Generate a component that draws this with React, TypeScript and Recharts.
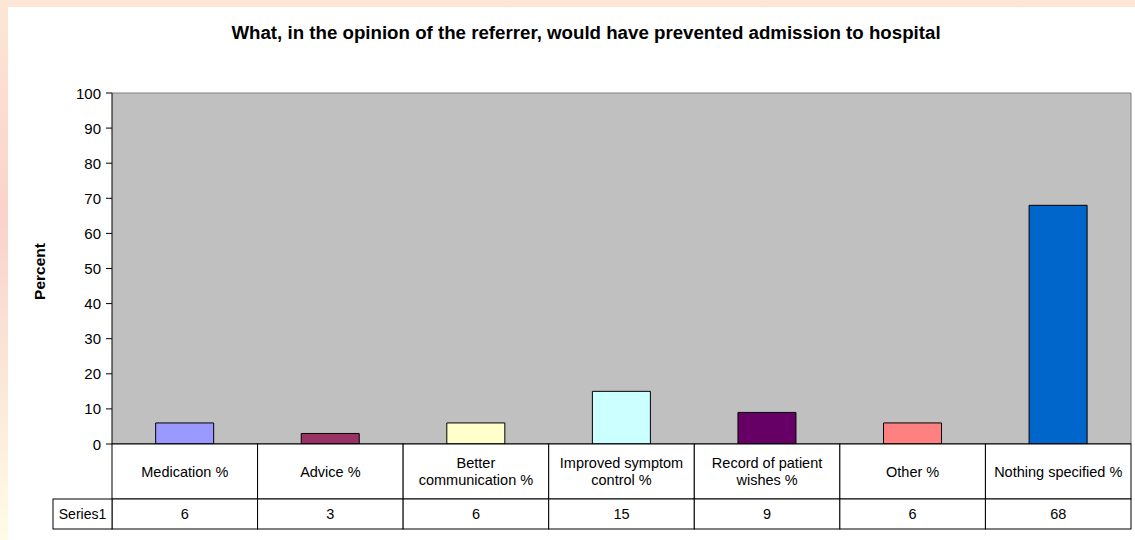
import { BarChart, Bar, XAxis, YAxis, CartesianGrid, Cell } from "recharts";

const categories = [
  "Medication %",
  "Advice %",
  "Better communication %",
  "Improved symptom control %",
  "Record of patient wishes %",
  "Other %",
  "Nothing specified %",
];

// how the labels break inside the table cells
const categoryLines = [
  ["Medication %"],
  ["Advice %"],
  ["Better", "communication %"],
  ["Improved symptom", "control %"],
  ["Record of patient", "wishes %"],
  ["Other %"],
  ["Nothing specified %"],
];

const series1 = [6, 3, 6, 15, 9, 6, 68];

const barColors = ["#9999FF", "#993366", "#FFFFCC", "#CCFFFF", "#660066", "#FF8080", "#0066CC"];

const yTicks = [0, 10, 20, 30, 40, 50, 60, 70, 80, 90, 100];

const FONT = "Arial, 'Liberation Sans', sans-serif";
const W = 1135;
const H = 540;
const MARGIN = { top: 93, right: 4, bottom: 11, left: 0 };
const Y_AXIS_W = 112;
const LABEL_ROW_H = 55;
const VALUE_ROW_H = 30;
const CELL_W = (W - MARGIN.left - MARGIN.right - Y_AXIS_W) / categories.length;

const data = categories.map((name, i) => ({ name, value: series1[i] }));

const TableTick = (props: any) => {
  const { x, y, index } = props;
  const left = x - CELL_W / 2;
  const lines = categoryLines[index];
  const lineH = 17;
  const midY = y + LABEL_ROW_H / 2;
  const firstY = midY - ((lines.length - 1) * lineH) / 2;
  return (
    <g>
      <rect x={left} y={y} width={CELL_W} height={LABEL_ROW_H} fill="#fff" stroke="#000" />
      <rect x={left} y={y + LABEL_ROW_H} width={CELL_W} height={VALUE_ROW_H} fill="#fff" stroke="#000" />
      {index === 0 && (
        <g>
          <rect x={53} y={y + LABEL_ROW_H} width={left - 53} height={VALUE_ROW_H} fill="#fff" stroke="#000" />
          <text
            x={(53 + left) / 2}
            y={y + LABEL_ROW_H + VALUE_ROW_H / 2}
            textAnchor="middle"
            dominantBaseline="central"
            fontSize={14}
            fontFamily={FONT}
            fill="#000"
          >
            Series1
          </text>
        </g>
      )}
      {lines.map((l, i) => (
        <text
          key={i}
          x={x}
          y={firstY + i * lineH}
          textAnchor="middle"
          dominantBaseline="central"
          fontSize={14.5}
          fontFamily={FONT}
          fill="#000"
        >
          {l}
        </text>
      ))}
      <text
        x={x}
        y={y + LABEL_ROW_H + VALUE_ROW_H / 2}
        textAnchor="middle"
        dominantBaseline="central"
        fontSize={14.5}
        fontFamily={FONT}
        fill="#000"
      >
        {series1[index]}
      </text>
    </g>
  );
};

const YTick = (props: any) => {
  const { x, y, payload } = props;
  return (
    <text
      x={x}
      y={y}
      textAnchor="end"
      dominantBaseline="central"
      fontSize={15}
      fontFamily={FONT}
      fill="#000"
    >
      {payload.value}
    </text>
  );
};

const PercentLabel = (props: any) => {
  const { viewBox } = props;
  const cx = 39;
  const cy = viewBox.y + viewBox.height / 2 + 3;
  return (
    <text
      x={cx}
      y={cy}
      transform={`rotate(-90 ${cx} ${cy})`}
      textAnchor="middle"
      dominantBaseline="central"
      fontSize={15.5}
      fontWeight="bold"
      fontFamily={FONT}
      fill="#000"
    >
      Percent
    </text>
  );
};

const App = () => {
  return (
    <div
      style={{
        position: "relative",
        width: W,
        height: H,
        background: "linear-gradient(180deg, #fde6d6 0%, #f9d3cb 40%, #fbe3d6 65%, #fffbe6 100%)",
        fontFamily: FONT,
      }}
    >
      <style>{"body{margin:0}"}</style>
      <div style={{ position: "absolute", left: 8, top: 7, width: W - 8, height: H - 7, background: "#fff" }} />
      <div
        style={{
          position: "absolute",
          left: 136,
          width: 900,
          top: 22,
          textAlign: "center",
          fontSize: 18.7,
          fontWeight: "bold",
          color: "#000",
        }}
      >
        What, in the opinion of the referrer, would have prevented admission to hospital
      </div>
      <div style={{ position: "absolute", left: 0, top: 0 }}>
        <BarChart width={W} height={H} data={data} margin={MARGIN} barCategoryGap="30%">
          <CartesianGrid
            fill="#C0C0C0"
            stroke="#808080"
            horizontalCoordinatesGenerator={({ offset }: any) => [offset.top]}
            verticalCoordinatesGenerator={({ offset }: any) => [offset.left + offset.width]}
          />
          <XAxis
            dataKey="name"
            height={LABEL_ROW_H + VALUE_ROW_H}
            tickSize={0}
            tickMargin={0}
            tickLine={false}
            axisLine={{ stroke: "#000" }}
            interval={0}
            tick={<TableTick />}
          />
          <YAxis
            width={Y_AXIS_W}
            domain={[0, 100]}
            ticks={yTicks}
            interval={0}
            axisLine={{ stroke: "#000" }}
            tickLine={{ stroke: "#000" }}
            tickSize={6}
            tickMargin={5}
            tick={<YTick />}
            label={<PercentLabel />}
          />
          <Bar dataKey="value" stroke="#000" strokeWidth={1} isAnimationActive={false}>
            {data.map((d, i) => (
              <Cell key={d.name} fill={barColors[i]} />
            ))}
          </Bar>
        </BarChart>
      </div>
    </div>
  );
};

export default App;
